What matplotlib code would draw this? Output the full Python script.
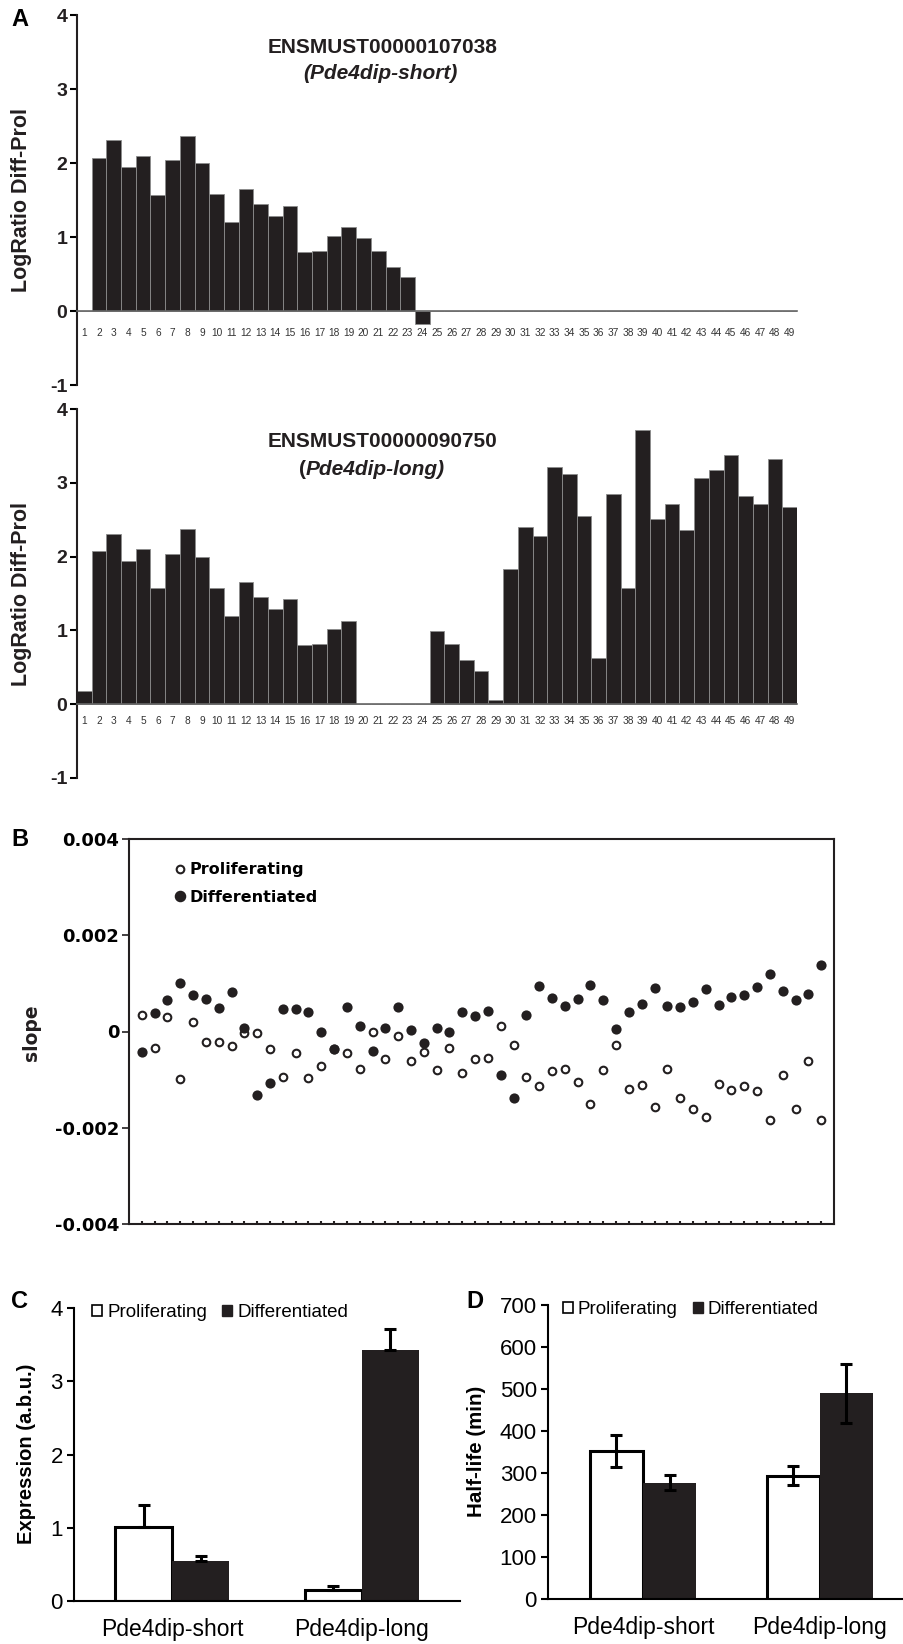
import matplotlib
matplotlib.use('Agg')
import matplotlib.pyplot as plt
from matplotlib.patches import Patch
from matplotlib.lines import Line2D
import numpy as np

plt.rcParams['font.family'] = ['Liberation Sans', 'DejaVu Sans']

BLACK = '#231f20'

# panel A: exon-level log ratio (differentiated vs proliferating)
exons = list(range(1, 50))
short_ratio = [0.0, 2.07, 2.31, 1.94, 2.10, 1.57, 2.04, 2.37, 2.00, 1.58,
               1.20, 1.65, 1.45, 1.29, 1.42, 0.80, 0.815, 1.02, 1.13, 0.99,
               0.815, 0.60, 0.455, -0.18, 0.0, 0.0, 0.0, 0.0, 0.0, 0.0,
               0.0, 0.0, 0.0, 0.0, 0.0, 0.0, 0.0, 0.0, 0.0, 0.0,
               0.0, 0.0, 0.0, 0.0, 0.0, 0.0, 0.0, 0.0, 0.0]
long_ratio = [0.18, 2.07, 2.31, 1.94, 2.10, 1.57, 2.04, 2.37, 2.00, 1.57,
              1.20, 1.65, 1.45, 1.29, 1.42, 0.80, 0.81, 1.02, 1.13, 0.0,
              0.0, 0.0, 0.0, 0.0, 0.99, 0.81, 0.60, 0.45, 0.06, 1.83,
              2.40, 2.28, 3.22, 3.12, 2.55, 0.62, 2.85, 1.58, 3.72, 2.51,
              2.71, 2.36, 3.06, 3.18, 3.37, 2.82, 2.71, 3.32, 2.67]
ratio_ticks = [-1, 0, 1, 2, 3, 4]
ratio_ticklabels = ['-1', '0', '1', '2', '3', '4']

# panel B: slopes per probe
probes = list(range(1, 55))
slope_prolif = [0.00035, -0.00035, 0.00030, -0.00098, 0.00019, -0.00022, -0.00022, -0.00031, -0.00003, -0.00003,
                -0.00037, -0.00095, -0.00044, -0.00097, -0.00071, -0.00037, -0.00044, -0.00078, -0.00001, -0.00057,
                -0.00010, -0.00062, -0.00042, -0.00079, -0.00035, -0.00086, -0.00058, -0.00055, 0.00011, -0.00028,
                -0.00095, -0.00113, -0.00082, -0.00077, -0.00104, -0.00150, -0.00080, -0.00029, -0.00119, -0.00111,
                -0.00156, -0.00077, -0.00138, -0.00162, -0.00177, -0.00110, -0.00122, -0.00114, -0.00124, -0.00184,
                -0.00090, -0.00162, -0.00061, -0.00184]
slope_diff = [-0.00042, 0.00038, 0.00066, 0.00100, 0.00075, 0.00068, 0.00048, 0.00083, 0.00008, -0.00131,
              -0.00108, 0.00046, 0.00046, 0.00040, -0.00001, -0.00037, 0.00050, 0.00011, -0.00040, 0.00007,
              0.00050, 0.00003, -0.00024, 0.00007, -0.00001, 0.00040, 0.00032, 0.00042, -0.00090, -0.00138,
              0.00034, 0.00095, 0.00070, 0.00053, 0.00067, 0.00096, 0.00066, 0.00006, 0.00041, 0.00057,
              0.00091, 0.00052, 0.00051, 0.00061, 0.00089, 0.00055, 0.00072, 0.00075, 0.00093, 0.00120,
              0.00085, 0.00065, 0.00077, 0.00139]
slope_ticks = [0.004, 0.002, 0.0, -0.002, -0.004]
slope_ticklabels = ['0.004', '0.002', '0', '-0.002', '-0.004']

# panels C and D
isoforms = ['Pde4dip-short', 'Pde4dip-long']
expr_prolif = [1.01, 0.15]
expr_prolif_err = [0.30, 0.06]
expr_diff = [0.55, 3.43]
expr_diff_err = [0.06, 0.28]
hl_prolif = [353, 294]
hl_prolif_err = [38, 23]
hl_diff = [277, 490]
hl_diff_err = [18, 70]

W, H = 904, 1644
fig = plt.figure(figsize=(W / 100, H / 100), dpi=100)


def rect(x0, y0, x1, y1):
    return [x0 / W, 1 - y1 / H, (x1 - x0) / W, (y1 - y0) / H]


def exon_panel(r, vals, pad):
    ax = fig.add_axes(r)
    ax.bar(exons, vals, width=1.0, color=BLACK, edgecolor='#8c8c8c', linewidth=0.6)
    ax.set_xlim(0.5, 49.5)
    ax.set_ylim(-1, 4)
    ax.spines['top'].set_visible(False)
    ax.spines['right'].set_visible(False)
    ax.spines['bottom'].set_position(('data', 0))
    ax.spines['bottom'].set_color('#666666')
    ax.spines['bottom'].set_linewidth(1.2)
    ax.spines['left'].set_linewidth(1.5)
    ax.spines['left'].set_color(BLACK)
    ax.set_xticks(exons)
    ax.set_xticklabels([str(e) for e in exons], fontsize=7.3, color='#333333')
    ax.tick_params(axis='x', length=0, pad=pad)
    ax.set_yticks(ratio_ticks)
    ax.set_yticklabels(ratio_ticklabels, fontsize=14, fontweight='bold', color=BLACK)
    ax.tick_params(axis='y', length=5, width=1.5, pad=2)
    return ax


# ---- A top
axA1 = exon_panel(rect(77, 15, 797, 385), short_ratio, 12)
axA1.text(0.424, 0.913, 'ENSMUST00000107038', transform=axA1.transAxes,
          ha='center', va='center', fontsize=15, fontweight='bold', color=BLACK)
axA1.text(0.421, 0.843, '(Pde4dip-short)', transform=axA1.transAxes,
          ha='center', va='center', fontsize=15, fontweight='bold', style='italic', color=BLACK)
fig.text(22 / W, 1 - 200 / H, 'LogRatio Diff-Prol', rotation=90, ha='center', va='center',
         fontsize=15.5, fontweight='bold', color=BLACK)

# ---- A bottom
axA2 = exon_panel(rect(77, 409, 797, 778), long_ratio, 8.5)
axA2.text(0.424, 0.911, 'ENSMUST00000090750', transform=axA2.transAxes,
          ha='center', va='center', fontsize=15, fontweight='bold', color=BLACK)
par = axA2.text(0.318, 0.835, '(', transform=axA2.transAxes,
                ha='right', va='center', fontsize=15, fontweight='bold', color=BLACK)
axA2.annotate('Pde4dip-long)', xy=(1, 0.5), xycoords=par, ha='left', va='center',
              fontsize=15, fontweight='bold', style='italic', color=BLACK)
fig.text(22 / W, 1 - 594 / H, 'LogRatio Diff-Prol', rotation=90, ha='center', va='center',
         fontsize=15.5, fontweight='bold', color=BLACK)

# ---- B scatter
axB = fig.add_axes(rect(129, 839, 834, 1224))
axB.scatter(probes, slope_prolif, s=30, facecolors='white', edgecolors=BLACK, linewidths=1.5, zorder=3)
axB.scatter(probes, slope_diff, s=54, color=BLACK, linewidths=0, zorder=4)
axB.set_xlim(0, 55)
axB.set_ylim(-0.004, 0.004)
axB.set_xticks(probes)
axB.set_xticklabels([])
axB.tick_params(axis='x', direction='in', length=2.5, width=1.5, color=BLACK)
axB.set_yticks(slope_ticks)
axB.set_yticklabels(slope_ticklabels, fontfamily='DejaVu Sans', fontweight='bold', fontsize=13)
axB.tick_params(axis='y', length=5, width=1.2, pad=2, color=BLACK)
for s in axB.spines.values():
    s.set_linewidth(1.5)
    s.set_color(BLACK)
handlesB = [Line2D([], [], marker='o', ls='none', mfc='white', mec=BLACK, mew=1.5, ms=5.5),
            Line2D([], [], marker='o', ls='none', color=BLACK, ms=7.3)]
axB.legend(handlesB, ['Proliferating', 'Differentiated'], loc='upper left',
           bbox_to_anchor=(0.066, 0.94), frameon=False,
           prop=dict(family='DejaVu Sans', weight='bold', size=11.5),
           handlelength=0.6, handletextpad=0.3, labelspacing=0.8,
           borderaxespad=0, borderpad=0)
fig.text(32 / W, 1 - 1033 / H, 'slope', rotation=90, ha='center', va='center',
         fontfamily='DejaVu Sans', fontsize=13.5, fontweight='bold', color=BLACK)


def group_panel(r, xlim, ylim, yticks, prolif, prolif_err, diff, diff_err, two_sided, leg_x):
    ax = fig.add_axes(r)
    pos = np.arange(len(isoforms))
    w = 0.3
    ax.bar(pos - w / 2, prolif, w, facecolor='white', edgecolor='black', linewidth=2.2, zorder=2)
    ax.bar(pos + w / 2, diff, w, color=BLACK, linewidth=0, zorder=2)
    if two_sided:
        perr = prolif_err
        derr = diff_err
    else:
        perr = [[0] * len(prolif), prolif_err]
        derr = [[0] * len(diff), diff_err]
    ax.errorbar(pos - w / 2, prolif, yerr=perr, fmt='none', ecolor='black',
                elinewidth=2.2, capsize=4, capthick=2.2, zorder=3)
    ax.errorbar(pos + w / 2, diff, yerr=derr, fmt='none', ecolor='black',
                elinewidth=2.2, capsize=4, capthick=2.2, zorder=3)
    ax.set_xlim(*xlim)
    ax.set_ylim(*ylim)
    ax.spines['top'].set_visible(False)
    ax.spines['right'].set_visible(False)
    ax.spines['left'].set_linewidth(1.5)
    ax.spines['bottom'].set_linewidth(1.5)
    ax.set_xticks(pos)
    ax.set_xticklabels(isoforms, fontsize=16.5)
    ax.tick_params(axis='x', length=0, pad=12.5)
    ax.set_yticks(yticks)
    ax.tick_params(axis='y', length=5, width=1.5, labelsize=16, pad=3)
    handles = [Patch(facecolor='white', edgecolor='black', linewidth=1.2),
               Patch(facecolor=BLACK, edgecolor=BLACK)]
    ax.legend(handles, ['Proliferating', 'Differentiated'], ncol=2, loc='upper left',
              bbox_to_anchor=(leg_x, 1.012), frameon=False, fontsize=13.5,
              handlelength=0.55, handleheight=0.55, handletextpad=0.25,
              columnspacing=0.8, borderaxespad=0, borderpad=0)
    return ax


# ---- C
axC = group_panel(rect(74, 1308, 460, 1601), (-0.516, 1.516), (0, 4), range(0, 5),
                  expr_prolif, expr_prolif_err, expr_diff, expr_diff_err, False, 0.047)
fig.text(27 / W, 1 - 1454 / H, 'Expression (a.b.u.)', rotation=90, ha='center', va='center',
         fontsize=14.5, fontweight='bold')

# ---- D
axD = group_panel(rect(548, 1305, 904, 1599), (-0.537, 1.475), (0, 700), range(0, 701, 100),
                  hl_prolif, hl_prolif_err, hl_diff, hl_diff_err, True, 0.042)
fig.text(477 / W, 1 - 1451 / H, 'Half-life (min)', rotation=90, ha='center', va='center',
         fontsize=14.8, fontweight='bold')

# panel letters
for letter, (x, y) in zip('ABCD', [(20, 20), (20, 839), (20, 1302), (475, 1302)]):
    fig.text(x / W, 1 - y / H, letter, ha='center', va='center', fontsize=17, fontweight='bold')

fig.savefig('out.png', dpi=100)
